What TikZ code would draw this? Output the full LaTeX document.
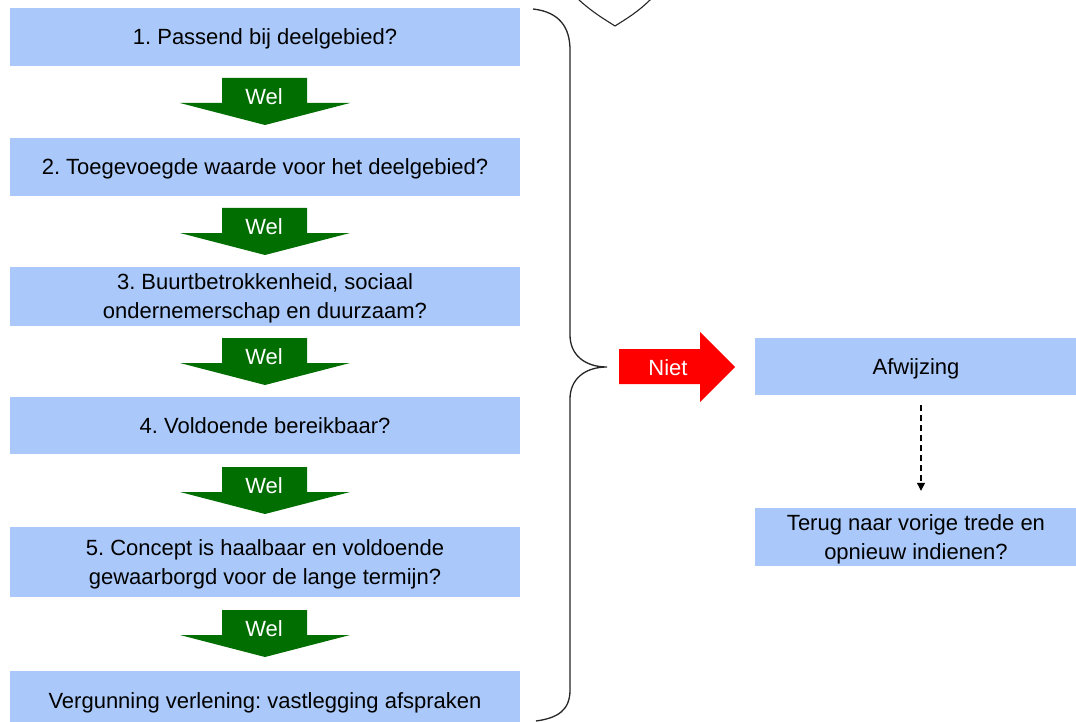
\documentclass[tikz,border=0pt]{standalone}
\usepackage{fontspec}
\setmainfont{Liberation Sans}
\usetikzlibrary{arrows.meta}
\definecolor{boxblue}{RGB}{170,201,250}
\definecolor{arrgreen}{RGB}{0,110,0}
\definecolor{arrred}{RGB}{255,0,0}
\frenchspacing
\begin{document}
\begin{tikzpicture}[x=1pt,y=-1pt,
  stepbox/.style={fill=boxblue,draw=none,inner sep=0pt,align=center,
    font=\fontsize{22}{29}\selectfont,text=black},
  oneline/.style={text height=16pt,text depth=0pt},
  twoline/.style={text depth=0pt},
  wellabel/.style={text=white,font=\fontsize{22}{24}\selectfont,inner sep=0pt},
  greenarrow/.style={fill=arrgreen,draw=none},
  bracestyle/.style={draw=black!85,line width=1.3pt}]
\clip (0,0) rectangle (1076,722);
\fill[white] (0,0) rectangle (1076,722);
% left column boxes
\node[stepbox,oneline,minimum width=510pt,minimum height=58pt] (b1) at (265,37) {1. Passend bij deelgebied?};
\node[stepbox,oneline,minimum width=510pt,minimum height=58pt] (b2) at (265,167) {2. Toegevoegde waarde voor het deelgebied?};
\node[stepbox,twoline,minimum width=510pt,minimum height=59pt] (b3) at (265,296.5) {3. Buurtbetrokkenheid, sociaal\\ondernemerschap en duurzaam?};
\node[stepbox,oneline,minimum width=510pt,minimum height=57pt] (b4) at (265,425.5) {4. Voldoende bereikbaar?};
\node[stepbox,twoline,minimum width=510pt,minimum height=70pt] (b5) at (265,562) {5. Concept is haalbaar en voldoende\\gewaarborgd voor de lange termijn?};
\node[stepbox,oneline,minimum width=510pt,minimum height=58pt] (b6) at (265,700) {Vergunning verlening: vastlegging afspraken};
% green arrows
\foreach \yt/\n in {78/w1,208/w2,338/w3,467/w4,610/w5}{
  \fill[greenarrow] (222,\yt) -- (307,\yt) -- (307,\yt+25) -- (350,\yt+25) -- (265,\yt+47) -- (180,\yt+25) -- (222,\yt+25) -- cycle;
  \node[wellabel] (\n) at (264,\yt+19) {Wel};
}
% brace
\draw[bracestyle] (533,9) .. controls (560,12) and (570,28) .. (570,50)
  -- (570,335) .. controls (570,355) and (585,367) .. (607,367)
  .. controls (585,367) and (570,379) .. (570,399)
  -- (570,690) .. controls (570,710) and (558,718) .. (536,721);
% top partial shape
\draw[draw=black!85,line width=1.1pt] (578,-1) .. controls (592,12) and (604,19) .. (615,26)
  .. controls (626,19) and (638,12) .. (651,-1);
% red arrow
\fill[arrred] (619,349) -- (700,349) -- (700,332) -- (735,367) -- (700,402) -- (700,384) -- (619,384) -- cycle;
\node[wellabel] (niet) at (668,368) {Niet};
% right boxes
\node[stepbox,oneline,minimum width=322pt,minimum height=57pt] (afw) at (916,366.5) {Afwijzing};
\node[stepbox,twoline,minimum width=322pt,minimum height=58pt] (terug) at (916,537) {Terug naar vorige trede en\\opnieuw indienen?};
\draw[dashed,line width=1.2pt,dash pattern=on 6pt off 4pt,-{Triangle[length=8pt,width=8pt]},shorten <=10pt,shorten >=17pt]
  ([xshift=5pt]afw.south) -- ([xshift=5pt]terug.north);
\end{tikzpicture}
\end{document}
